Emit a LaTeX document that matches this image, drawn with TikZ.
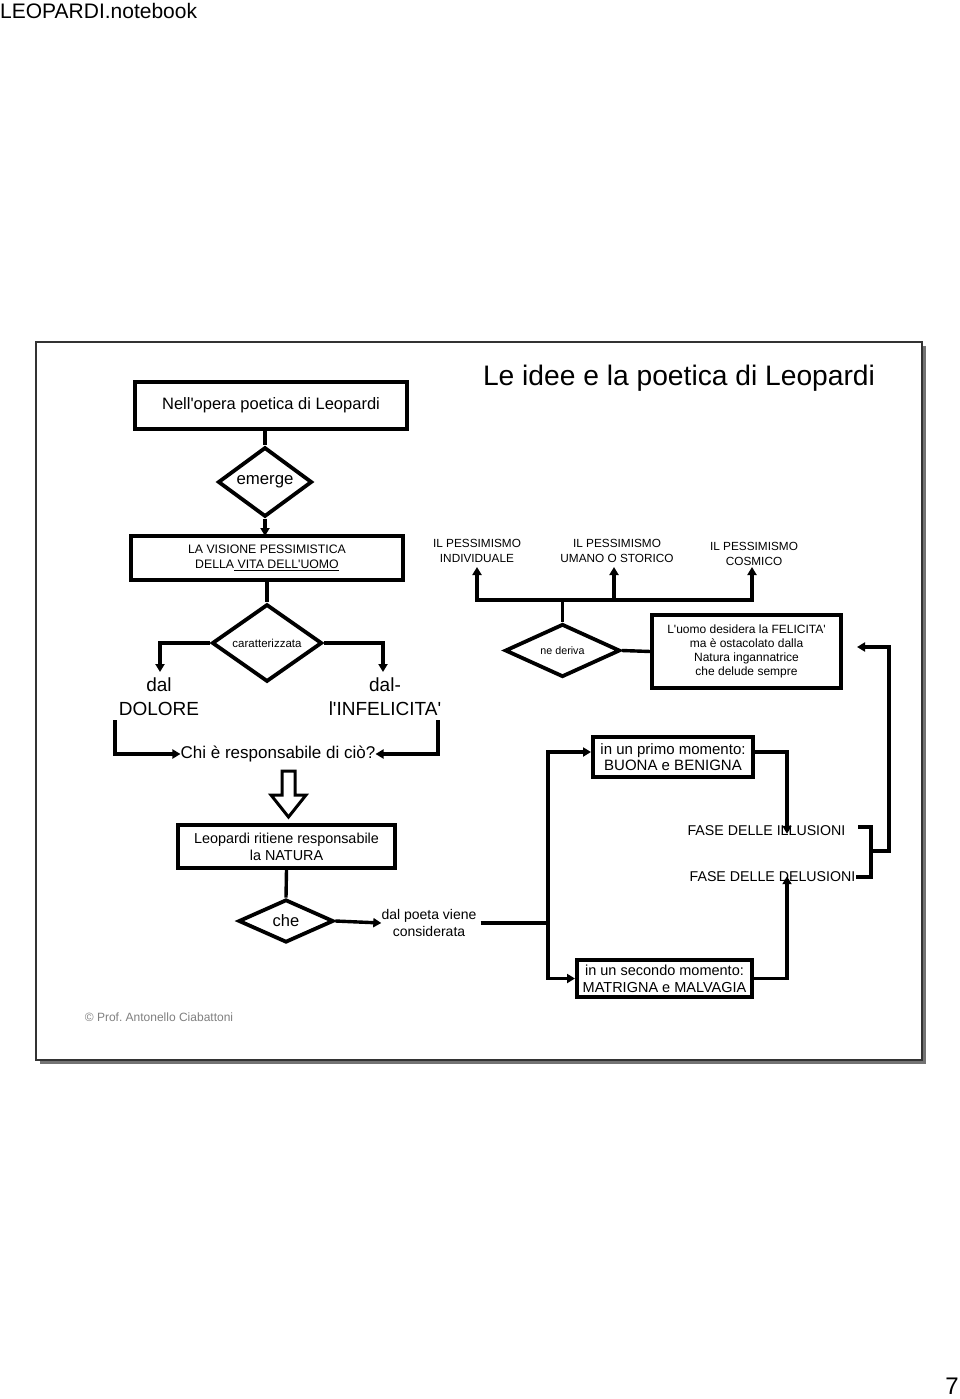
\documentclass[tikz,border=0pt]{standalone}
\usepackage{fontspec}
\setmainfont{Liberation Sans}[Ligatures=TeXOff]
\usetikzlibrary{shapes.geometric,arrows.meta}
\tikzset{
  fs/.style 2 args={font=\fontsize{#1}{#2}\selectfont},
  ln/.style={line width=3.4pt, line join=miter},
  arr/.style={ln, -{Triangle[length=8pt,width=9pt]}, shorten >=0pt},
  boxnode/.style={draw, line width=3.2pt, rectangle, inner sep=0pt, align=center},
  dia/.style={draw, line width=3.8pt, diamond, inner sep=0pt, align=center},
  lbl/.style={inner sep=0pt, align=center},
}
\frenchspacing
\begin{document}
\begin{tikzpicture}[x=1pt,y=-1pt]
\useasboundingbox (0,0) rectangle (960,1399);
\fill[white] (0,0) rectangle (960,1399);
% header and page number
\node[lbl, anchor=west, fs={21}{24}] (hdr) at (0,11) {LEOPARDI.notebook};
\node[lbl, fs={24}{28}] (pg) at (952,1386) {7};
% frame with shadow
\fill[black!55] (40,346) rectangle (926,1064);
\filldraw[fill=white, draw=black!80, line width=1.4pt] (36,342) rectangle (922,1060);
% title
\node[lbl, fs={28.2}{32}] (title) at (679,378) {Le idee e la poetica di Leopardi};
% top column
\node[boxnode, minimum width=272pt, minimum height=47pt, fs={16.5}{19}] (b1) at (271,405.5) {Nell'opera poetica di Leopardi};
\node[dia, minimum width=94pt, minimum height=40pt, fs={16.8}{19}] (d1) at (265,482) {emerge};
\node[boxnode, minimum width=272pt, minimum height=44pt, fs={12.3}{15}] (b2) at (267,558) {LA VISIONE PESSIMISTICA\\DELLA\underline{ VITA DELL'UOMO}};
\draw[ln] (265,429) -- (d1.north);
\draw[arr] (d1.south) -- (265,536);
\node[dia, minimum width=110pt, minimum height=52pt, fs={11.5}{13}] (d2) at (267,643) {caratterizzata};
\draw[ln] (b2.south) -- (d2.north);
\node[lbl, fs={19}{24}] (dol) at (159,697) {dal\\DOLORE};
\node[lbl, fs={19}{24}] (inf) at (385,697) {dal-\\l'INFELICITA'};
\coordinate (dtop) at (160,672);
\coordinate (itop) at (383,672);
\draw[arr] (d2.west) -| (dtop);
\draw[arr] (d2.east) -| (itop);
\node[lbl, fs={17}{20}] (chi) at (278,754) {Chi è responsabile di ciò?};
\coordinate (cl) at (115,720);
\coordinate (cr) at (438,720);
\draw[arr] (cl) |- (chi.west);
\draw[arr] (cr) |- (chi.east);
% hollow arrow
\draw[line width=3pt, line join=miter, fill=white] (282,771) -- (295,771) -- (295,795) -- (306,795) -- (288.5,817) -- (271,795) -- (282,795) -- cycle;
\node[boxnode, minimum width=217pt, minimum height=43pt, fs={14.4}{17}] (b3) at (286.5,846.5) {Leopardi ritiene responsabile\\la NATURA};
\node[dia, minimum width=95pt, minimum height=43pt, fs={16.5}{19}] (d3) at (286,921) {che};
\draw[ln] (b3.south) -- (d3.north);
\node[lbl, fs={14}{17}] (cons) at (429,923) {dal poeta viene\\considerata};
\draw[arr] (d3.east) -- (cons.west);
% middle-right branch
\node[boxnode, line width=4pt, minimum width=160pt, minimum height=40pt, fs={15}{16}] (primo) at (673,757) {in un primo momento:\\BUONA e BENIGNA};
\node[boxnode, line width=4pt, minimum width=175pt, minimum height=37pt, fs={14.5}{17}] (sec) at (664.5,978.5) {in un secondo momento:\\MATRIGNA e MALVAGIA};
\coordinate (j) at (548,923);
\draw[ln] ([xshift=4pt]cons.east) -- (j);
\draw[arr] (548,923) |- ([yshift=5pt]primo.west);
\draw[arr] (548,923) |- (sec.west);
\node[lbl, fs={14.2}{17}] (ill) at (766.5,831) {FASE DELLE ILLUSIONI};
\node[lbl, fs={14.2}{17}] (del) at (772.5,877) {FASE DELLE DELUSIONI};
\draw[arr] ([yshift=5pt]primo.east) -| ([xshift=20.5pt,yshift=-8pt]ill.north);
\draw[arr] (sec.east) -| ([xshift=14.5pt,yshift=6pt]del.south);
% bracket and return arrow
\draw[ln] (858,827) -- (871,827) -- (871,877) -- (del.east);
\coordinate (ret) at (857,647);
\draw[arr] (871,851) -- (889,851) |- (ret);
% upper right
\node[boxnode, minimum width=189pt, minimum height=73pt, fs={12}{14}] (uomo) at (746.5,651.5) {L'uomo desidera la FELICITA'\\ma è ostacolato dalla\\Natura ingannatrice\\che delude sempre};
\node[dia, minimum width=115pt, minimum height=53pt, fs={10.7}{13}] (d4) at (562.5,650.5) {ne deriva};
\draw[ln] (d4.east) -- (uomo.west);
\node[lbl, fs={11.8}{15}] (p1) at (477,550.5) {IL PESSIMISMO\\INDIVIDUALE};
\node[lbl, fs={11.8}{15}] (p2) at (617,550.5) {IL PESSIMISMO\\UMANO O STORICO};
\node[lbl, fs={11.8}{15}] (p3) at (754,553.5) {IL PESSIMISMO\\COSMICO};
\coordinate (tj) at (562.5,600);
\draw[ln] (d4.north) -- (tj);
\draw[arr] (tj) -| (477,567);
\draw[arr] (tj) -| (752,567);
\draw[arr] (614,600) -- (614,567);
% footer
\node[lbl, text=black!50, fs={12}{14}] (foot) at (159,1017) {© Prof. Antonello Ciabattoni};
\end{tikzpicture}
\end{document}
